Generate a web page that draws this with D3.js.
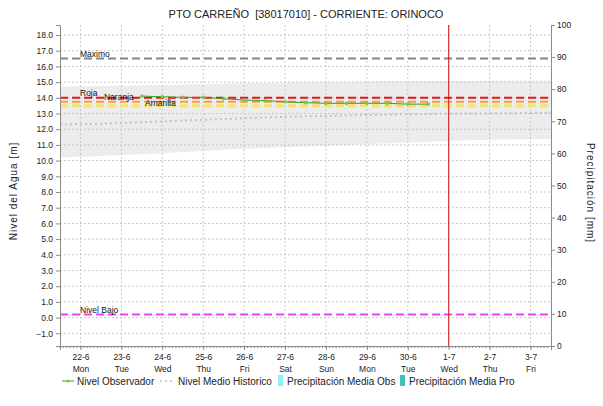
<!DOCTYPE html>
<html>
<head>
<meta charset="utf-8">
<script src="https://cdn.jsdelivr.net/npm/d3@7/dist/d3.min.js"></script>
<style>
  html, body { margin: 0; padding: 0; background: #fff; }
  svg { display: block; font-family: "Liberation Sans", Arial, sans-serif; }
  .title { white-space: pre; }
</style>
</head>
<body>
<svg id="chart" width="603" height="406"></svg>
<script>
// Days shown on the time axis (2020)
const dayDates = ["2020-06-22","2020-06-23","2020-06-24","2020-06-25","2020-06-26","2020-06-27",
                  "2020-06-28","2020-06-29","2020-06-30","2020-07-01","2020-07-02","2020-07-03"];
const dayLabels = ["22-6","23-6","24-6","25-6","26-6","27-6","28-6","29-6","30-6","1-7","2-7","3-7"];
const weekdayLabels = ["Mon","Tue","Wed","Thu","Fri","Sat","Sun","Mon","Tue","Wed","Thu","Fri"];

// Observed water level, every 12 h from 23-6 12:00
const obsStart = "2020-06-23T12:00:00Z";
const obsLevels = [14.11, 14.07, 14.03, 14.03, 13.94, 13.86, 13.82, 13.75, 13.69, 13.65, 13.65, 13.65, 13.65, 13.60, 13.60];

// Historical mean level and historical range, daily from 21-6 12:00 to 3-7 12:00
const histStart = "2020-06-21T12:00:00Z";
const histMean  = [12.30, 12.35, 12.45, 12.55, 12.65, 12.75, 12.82, 12.88, 12.93, 12.97, 13.00, 13.02, 13.05];
const histUpper = [14.70, 14.75, 14.80, 14.85, 14.90, 14.95, 15.00, 15.02, 15.05, 15.07, 15.08, 15.10, 15.10];
const histLower = [10.20, 10.30, 10.40, 10.55, 10.70, 10.80, 10.90, 11.00, 11.10, 11.20, 11.30, 11.35, 11.40];

// Alert thresholds [m]
const thresholdNames  = ["Maximo", "Roja", "Naranja", "Amarilla", "Nivel Bajo"];
const thresholdLevels = [16.5, 14.0, 13.75, 13.5, 0.2];

// Axis ticks
const levelTicks = [-1,0,1,2,3,4,5,6,7,8,9,10,11,12,13,14,15,16,17,18];
const precipTicks = [0,10,20,30,40,50,60,70,80,90,100];
const nowDate = "2020-07-01";

const svg = d3.select("#chart");
const m = { left: 60, right: 551, top: 25, bottom: 346 };
const fontFam = "Liberation Sans, Arial, sans-serif";

const x = d3.scaleUtc()
  .domain([new Date("2020-06-21T12:00:00Z"), new Date("2020-07-03T12:00:00Z")])
  .range([m.left, m.right]);
const y = d3.scaleLinear().domain([-1.81, 18.64]).range([m.bottom, m.top]);
const yR = d3.scaleLinear().domain([0, 100]).range([m.bottom, m.top]);

const hoursFrom = (start, i, step) => new Date(new Date(start).getTime() + i * step * 3600e3);

// Title
svg.append("text").attr("class", "title").attr("x", 306).attr("y", 18).attr("text-anchor", "middle")
  .attr("font-size", 11).attr("fill", "#222")
  .text("PTO CARREÑO  [38017010] - CORRIENTE: ORINOCO");

const plot = svg.append("g");

// Historical range band
const histPts = histMean.map((d, i) => ({ t: hoursFrom(histStart, i, 24), mean: d, up: histUpper[i], lo: histLower[i] }));
plot.append("path").datum(histPts)
  .attr("fill", "#ececec")
  .attr("d", d3.area().x(d => x(d.t)).y0(d => y(d.lo)).y1(d => y(d.up)).curve(d3.curveMonotoneX));

// Grid
const dayTimes = dayDates.map(d => new Date(d + "T00:00:00Z"));
plot.append("g").selectAll("line").data(dayTimes).join("line")
  .attr("x1", d => x(d)).attr("x2", d => x(d)).attr("y1", m.top).attr("y2", m.bottom)
  .attr("stroke", "#c8c8c8").attr("stroke-dasharray", "2,2");
plot.append("g").selectAll("line").data(levelTicks).join("line")
  .attr("x1", m.left).attr("x2", m.right).attr("y1", d => y(d)).attr("y2", d => y(d))
  .attr("stroke", "#c8c8c8").attr("stroke-dasharray", "2,2");

// Historical mean (dotted)
plot.append("path").datum(histPts)
  .attr("fill", "none").attr("stroke", "#c4c4c4").attr("stroke-width", 2).attr("stroke-dasharray", "2,3")
  .attr("d", d3.line().x(d => x(d.t)).y(d => y(d.mean)).curve(d3.curveMonotoneX));

// Threshold lines
const thrColors = ["#7c8496", "#e8141c", "#f0a050", "#f6e26a", "#f040f0"];
const thrWidths = [2, 2, 2, 3, 2];
const thr = thresholdNames.map((n, i) => ({ name: n, v: thresholdLevels[i], c: thrColors[i], w: thrWidths[i] }));
plot.append("g").selectAll("line").data(thr.slice().reverse()).join("line")
  .attr("x1", m.left).attr("x2", m.right).attr("y1", d => y(d.v)).attr("y2", d => y(d.v))
  .attr("stroke", d => d.c).attr("stroke-width", d => d.w).attr("stroke-dasharray", "8,4");

// Observed level
const obsPts = obsLevels.map((v, i) => ({ t: hoursFrom(obsStart, i, 12), v }));
plot.append("path").datum(obsPts)
  .attr("fill", "none").attr("stroke", "#3aa020").attr("stroke-width", 1)
  .attr("d", d3.line().x(d => x(d.t)).y(d => y(d.v)));
plot.append("g").selectAll("circle").data(obsPts).join("circle")
  .attr("cx", d => x(d.t)).attr("cy", d => y(d.v)).attr("r", 1.8).attr("fill", "#70cc40");

// Threshold labels
const labelOffsets = { "Maximo": [80, -2], "Roja": [80, -1.5], "Naranja": [104, -1.5], "Amarilla": [145, 0], "Nivel Bajo": [80, -1.5] };
plot.append("g").selectAll("text").data(thr).join("text")
  .attr("x", d => labelOffsets[d.name][0]).attr("y", d => y(d.v) + labelOffsets[d.name][1])
  .attr("font-size", 8.5).attr("fill", "#111").text(d => d.name);

// Current date marker
plot.append("line")
  .attr("x1", x(new Date(nowDate + "T00:00:00Z"))).attr("x2", x(new Date(nowDate + "T00:00:00Z")))
  .attr("y1", m.top).attr("y2", m.bottom).attr("stroke", "#d01010").attr("stroke-width", 1);

// Axes
const axisCol = "#8a8a8a";
const gL = svg.append("g").attr("transform", `translate(${m.left},0)`)
  .call(d3.axisLeft(y).tickValues(levelTicks).tickFormat(d3.format(".1f")).tickSize(4).tickPadding(3));
const gR = svg.append("g").attr("transform", `translate(${m.right},0)`)
  .call(d3.axisRight(yR).tickValues(precipTicks).tickSize(4).tickPadding(2));
// Minor ticks along the time axis
const minor = d3.utcHour.every(2).range(x.domain()[0], x.domain()[1]);
svg.append("g").selectAll("line").data(minor).join("line")
  .attr("x1", d => x(d)).attr("x2", d => x(d)).attr("y1", m.bottom).attr("y2", m.bottom + 2)
  .attr("stroke", axisCol);
const gB = svg.append("g").attr("transform", `translate(0,${m.bottom})`)
  .call(d3.axisBottom(x).tickValues(dayTimes).tickSize(4).tickPadding(4).tickFormat((d, i) => dayLabels[i]));
[gL, gR, gB].forEach(g => {
  g.select(".domain").attr("stroke", axisCol);
  g.selectAll(".tick line").attr("stroke", axisCol);
  g.selectAll("text").attr("font-size", 8.5).attr("fill", "#222").attr("font-family", fontFam);
});
gB.selectAll(".tick").append("text").attr("y", 20).attr("dy", "0.71em").attr("text-anchor", "middle")
  .attr("font-size", 8.5).attr("fill", "#222").attr("font-family", fontFam).text((d, i) => weekdayLabels[i]);

// Axis titles
svg.append("text").attr("transform", "translate(17,191) rotate(-90)").attr("text-anchor", "middle")
  .attr("font-size", 10).attr("letter-spacing", 1).attr("fill", "#222").text("Nivel del Agua [m]");
svg.append("text").attr("transform", "translate(587,193) rotate(90)").attr("text-anchor", "middle")
  .attr("font-size", 10).attr("letter-spacing", 1).attr("fill", "#222").text("Precipitación [mm]");

// Legend
const lg = svg.append("g").attr("font-size", 10).attr("fill", "#222");
lg.append("line").attr("x1", 62).attr("x2", 74).attr("y1", 381).attr("y2", 381).attr("stroke", "#3aa020");
lg.append("circle").attr("cx", 68).attr("cy", 381).attr("r", 1.6).attr("fill", "#70cc40");
lg.append("text").attr("x", 77).attr("y", 385).text("Nivel Observador");
lg.append("line").attr("x1", 160).attr("x2", 173).attr("y1", 381).attr("y2", 381)
  .attr("stroke", "#c4c4c4").attr("stroke-width", 1.5).attr("stroke-dasharray", "2,3");
lg.append("text").attr("x", 178).attr("y", 385).text("Nivel Medio Historico");
lg.append("rect").attr("x", 278).attr("y", 375).attr("width", 5).attr("height", 11).attr("fill", "#8ef0f8");
lg.append("text").attr("x", 287).attr("y", 385).text("Precipitación Media Obs");
lg.append("rect").attr("x", 400).attr("y", 375).attr("width", 5).attr("height", 11).attr("fill", "#40c0c0");
lg.append("text").attr("x", 409).attr("y", 385).text("Precipitación Media Pro");
</script>
</body>
</html>
